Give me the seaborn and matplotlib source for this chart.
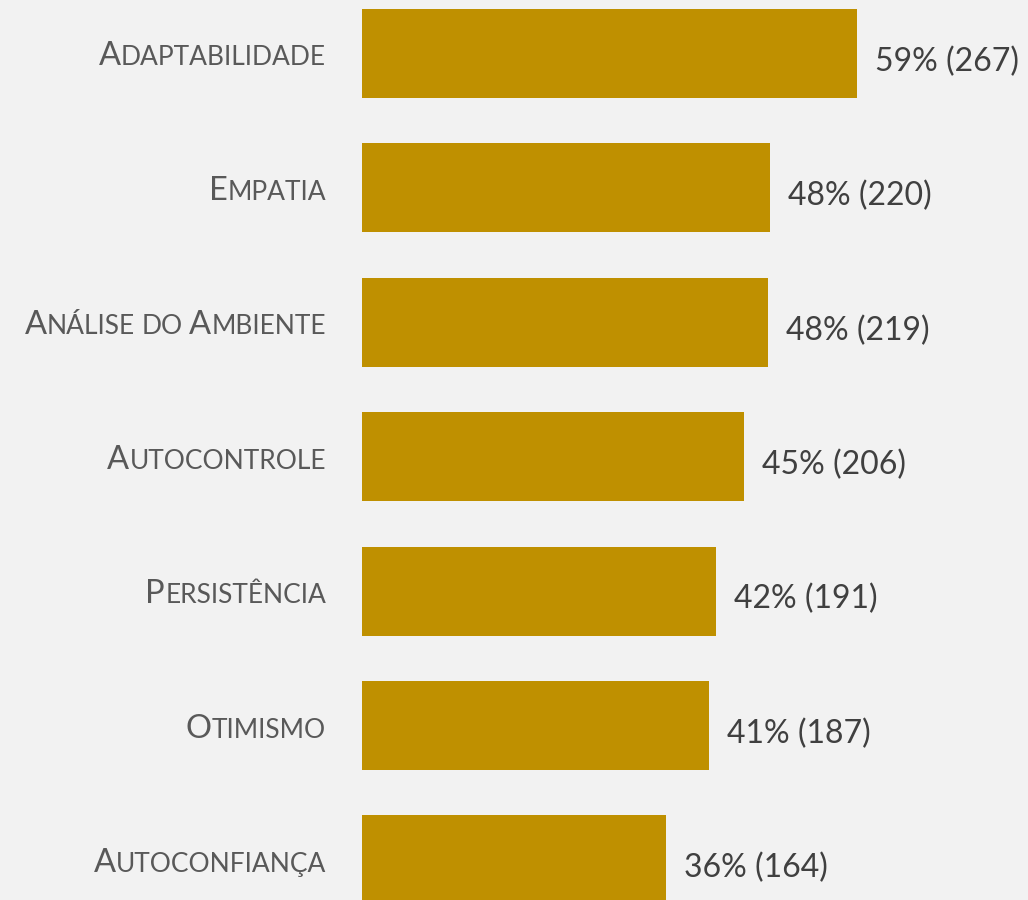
import matplotlib
matplotlib.use('Agg')
import matplotlib.pyplot as plt
import seaborn as sns
import pandas as pd

# data
categories = ['Adaptabilidade', 'Empatia', 'Análise do Ambiente', 'Autocontrole',
              'Persistência', 'Otimismo', 'Autoconfiança']
counts = [267, 220, 219, 206, 191, 187, 164]
percents = [59, 48, 48, 45, 42, 41, 36]

bg = '#F2F2F2'
gold = '#BF9000'
sns.set_theme(style='white', rc={'axes.facecolor': bg, 'figure.facecolor': bg})
plt.rcParams['font.family'] = ['Lato', 'DejaVu Sans']

W, H = 1028, 900
fig = plt.figure(figsize=(W / 100, H / 100), dpi=100)
ax = fig.add_axes([362 / W, 0, 1 - 362 / W, 1])

df = pd.DataFrame({'cat': categories, 'n': counts})
sns.barplot(data=df, x='n', y='cat', color=gold, saturation=1, width=0.662,
            linewidth=0, ax=ax)
ax.set_xlim(0, 359.2)
ax.set_ylim(6.298, -0.398)
ax.axis('off')

# value labels
for i, (n, p) in enumerate(zip(counts, percents)):
    ax.annotate(f'{p}% ({n})', xy=(n, i), xytext=(13, -12.5), textcoords='offset points',
                ha='left', va='baseline', fontsize=23, color='#404040')

# small caps category labels, drawn run by run from the right
renderer = fig.canvas.get_renderer()
big, small = 23.5, 19
lab_color = '#595959'


def text_width(s, size):
    t = fig.text(0, 0, s, fontsize=size)
    w = t.get_window_extent(renderer).width
    t.remove()
    return w


space = text_width('A A', small) - text_width('AA', small)

for i, label in enumerate(categories):
    _, yc = ax.transData.transform((0, i))
    base = yc - 12
    x = 326
    words = label.split(' ')
    for k, word in enumerate(reversed(words)):
        runs = []
        for ch in word:
            size = big if ch.isupper() else small
            if runs and runs[-1][1] == size:
                runs[-1][0] += ch.upper()
            else:
                runs.append([ch.upper(), size])
        for s, size in reversed(runs):
            t = fig.text(x / W, base / H, s, ha='right', va='baseline',
                         fontsize=size, color=lab_color)
            x -= t.get_window_extent(renderer).width
        if k < len(words) - 1:
            x -= space

fig.savefig('out.png', dpi=100, facecolor=bg)
